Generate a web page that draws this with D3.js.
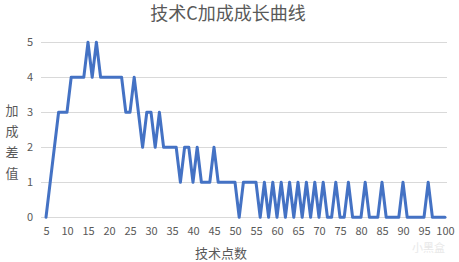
<!DOCTYPE html>
<html>
<head>
<meta charset="utf-8">
<script src="https://cdn.jsdelivr.net/npm/d3@7/dist/d3.min.js"></script>
<style>
  html, body { margin: 0; padding: 0; background: #ffffff; }
  svg { display: block; }
  text { font-family: "Noto Sans CJK SC", "Noto Sans", sans-serif; }
</style>
</head>
<body>
<svg id="chart" width="459" height="262"></svg>
<script>
const titleText = "技术C加成成长曲线";
const xTitle = "技术点数";
const yTitle = "加成差值";
const points = d3.range(5, 101); // 技术点数 5..100
const values = [
  0, 1, 2, 3, 3, 3, 4, 4, 4, 4,      // 5-14
  5, 4, 5, 4, 4, 4, 4, 4, 4, 3,      // 15-24
  3, 4, 3, 2, 3, 3, 2, 3, 2, 2,      // 25-34
  2, 2, 1, 2, 2, 1, 2, 1, 1, 1,      // 35-44
  2, 1, 1, 1, 1, 1, 0, 1, 1, 1,      // 45-54
  1, 0, 1, 0, 1, 0, 1, 0, 1, 0,      // 55-64
  1, 0, 1, 0, 1, 0, 1, 0, 0, 1,      // 65-74
  0, 0, 1, 0, 0, 0, 1, 0, 0, 0,      // 75-84
  1, 0, 0, 0, 0, 1, 0, 0, 0, 0,      // 85-94
  0, 1, 0, 0, 0, 0                   // 95-100
];
const xTicks = d3.range(5, 101, 5);
const yTicks = [0, 1, 2, 3, 4, 5];

const svg = d3.select("#chart");
const x = d3.scaleLinear().domain([5, 100]).range([46, 445]);
const y = d3.scaleLinear().domain([0, 5]).range([217.3, 42.3]);

// gridlines
svg.append("g")
  .selectAll("line")
  .data(yTicks)
  .join("line")
  .attr("x1", 41).attr("x2", 447)
  .attr("y1", d => Math.round(y(d)) + 0.5)
  .attr("y2", d => Math.round(y(d)) + 0.5)
  .attr("stroke", "#d9d9d9")
  .attr("stroke-width", 1);

// y tick labels
svg.append("g")
  .selectAll("text")
  .data(yTicks)
  .join("text")
  .attr("x", 33)
  .attr("y", d => y(d))
  .attr("dy", "0.35em")
  .attr("text-anchor", "end")
  .attr("font-size", 11)
  .attr("fill", "#595959")
  .text(d => d);

// x axis labels via d3 axis
const xAxis = d3.axisBottom(x).tickValues(xTicks).tickSize(0).tickPadding(10);
const gx = svg.append("g").attr("transform", "translate(0,217.3)").call(xAxis);
gx.select(".domain").remove();
gx.selectAll("text")
  .attr("font-size", 11)
  .attr("fill", "#595959")
  .attr("font-family", "\"Noto Sans CJK SC\", \"Noto Sans\", sans-serif");

// line
const line = d3.line()
  .x((d, i) => x(points[i]))
  .y(d => y(d));
svg.append("path")
  .datum(values)
  .attr("d", line)
  .attr("fill", "none")
  .attr("stroke", "#4472C4")
  .attr("stroke-width", 3)
  .attr("stroke-linejoin", "round")
  .attr("stroke-linecap", "round");

// title
svg.append("text")
  .attr("x", 228).attr("y", 14)
  .attr("dy", "0.35em")
  .attr("text-anchor", "middle")
  .attr("font-size", 18)
  .attr("fill", "#595959")
  .text(titleText);

// x title
svg.append("text")
  .attr("x", 221).attr("y", 253)
  .attr("dy", "0.35em")
  .attr("text-anchor", "middle")
  .attr("font-size", 13)
  .attr("fill", "#595959")
  .text(xTitle);

// y title (vertical stacked chars)
svg.append("g")
  .selectAll("text")
  .data(yTitle.split(""))
  .join("text")
  .attr("x", 12)
  .attr("y", (d, i) => 110 + i * 21)
  .attr("dy", "0.35em")
  .attr("text-anchor", "middle")
  .attr("font-size", 13)
  .attr("fill", "#595959")
  .text(d => d);

// watermark
svg.append("text")
  .attr("x", 445).attr("y", 252)
  .attr("text-anchor", "end")
  .attr("font-size", 11)
  .attr("fill", "#e8e8e8")
  .text("小黑盒");
</script>
</body>
</html>
